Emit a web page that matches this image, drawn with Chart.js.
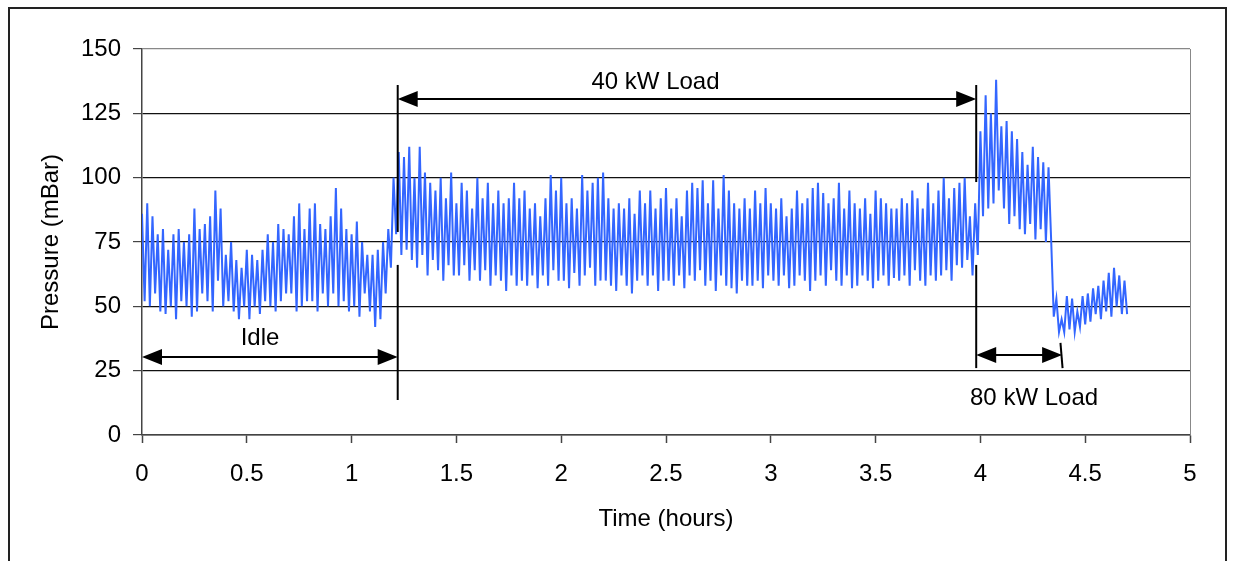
<!DOCTYPE html>
<html>
<head>
<meta charset="utf-8">
<script src="https://cdn.jsdelivr.net/npm/chart.js@4/dist/chart.umd.min.js"></script>
<style>
  body { margin: 0; background: #fff; }
  #wrap { position: relative; width: 1235px; height: 561px; overflow: hidden; }
  #frame { position: absolute; left: 8px; top: 7px; width: 1219px; height: 600px; border: 2px solid #222; box-sizing: border-box; }
  canvas { position: absolute; left: 0; top: 0; }
</style>
</head>
<body>
<div id="wrap">
  <div id="frame"></div>
  <canvas id="pressureChart" width="1235" height="561"></canvas>
</div>
<script>
// sample spacing of the logger trace (hours)
const sampleStep = 0.0125;

// pressure (mBar), one row per 0.1 h
const idlePressure = [
  86,52,90,50,85,55,78,48,
  80,47,72,50,78,45,80,52,
  75,50,78,46,88,48,80,55,
  82,52,85,48,95,60,88,50,
  70,52,75,48,68,45,65,50,
  72,45,70,50,68,47,72,52,
  78,50,75,48,82,52,80,55,
  78,55,85,48,90,50,80,52,
  88,52,90,48,82,55,80,50,
  85,55,96,50,88,52,80,48,
  78,50,83,46,75,55,70,48,
  70,42,72,45,75,55,80,65
];
const load40Pressure = [
  100,78,110,70,108,72,112,68,
  100,65,112,70,102,62,98,68,
  95,64,100,60,92,66,102,62,
  90,62,98,66,95,60,88,64,
  100,60,92,64,98,58,90,62,
  95,60,90,56,92,62,98,58,
  92,60,95,58,88,62,90,57,
  85,62,92,58,101,64,95,60,
  100,60,90,57,92,63,88,58,
  101,62,95,65,98,58,100,60,
  102,60,92,58,88,56,90,62,
  88,58,92,55,86,60,95,62,
  90,58,95,62,88,56,92,60,
  96,60,88,58,92,62,85,57,
  95,62,98,60,96,64,99,58,
  90,60,99,56,88,62,101,58,
  95,57,90,55,88,60,92,58,
  88,58,95,60,90,57,96,62,
  90,60,88,58,92,62,85,57,
  88,58,95,62,90,60,92,56,
  96,60,98,62,94,58,90,64,
  92,60,98,58,88,62,95,57,
  90,58,88,62,92,60,86,57,
  95,60,92,62,90,58,88,61,
  88,60,92,62,90,58,95,64,
  92,60,88,58,98,62,90,60,
  95,62,100,64,92,60,96,66,
  98,65,100,68,85,62,90,70
];
const load80Pressure = [
  118,85,132,88,125,90,138,95,
  120,88,122,82,118,85,115,80,
  110,78,105,82,112,76,108,80,
  106,75,104,76,46,53,40,45,
  40,54,41,53,40,48,42,54,
  43,55,44,57,47,58,45,60,
  48,63,46,65,50,62,47,60,
  47
];

const yTicks = [0, 25, 50, 75, 100, 125, 150];
const xTicks = [0, 0.5, 1, 1.5, 2, 2.5, 3, 3.5, 4, 4.5, 5];

// phase markers (hours / mBar)
const phaseLines = [
  { x: [1.22, 1.22], y: [136, 78.9] },
  { x: [1.22, 1.22], y: [66.1, 13.6] },
  { x: [3.98, 3.98], y: [136, 98.3] },
  { x: [3.98, 3.98], y: [66.1, 26.0] },
  { x: [4.382, 4.392], y: [35.8, 26.0] }
];
const phaseArrows = [
  { label: 'Idle', from: 0, to: 1.22, y: 30.3, tx: 0.563, ty: 37.7 },
  { label: '40 kW Load', from: 1.22, to: 3.98, y: 130.6, tx: 2.45, ty: 137.2 },
  { label: '80 kW Load', from: 3.98, to: 4.39, y: 31.1, tx: 4.256, ty: 14.4 }
];

const pressure = idlePressure.concat(load40Pressure, load80Pressure);
const points = pressure.map((p, i) => ({ x: i * sampleStep, y: p }));

const FONT = '"Liberation Sans", Arial, sans-serif';

function arrowHead(ctx, x, y, dir) {
  ctx.beginPath();
  ctx.moveTo(x, y);
  ctx.lineTo(x - dir * 20, y - 8);
  ctx.lineTo(x - dir * 20, y + 8);
  ctx.closePath();
  ctx.fill();
}

const annotations = {
  id: 'annotations',
  afterDatasetsDraw(chart) {
    const { ctx, chartArea, scales: { x, y } } = chart;
    ctx.save();
    // right border of the plot
    ctx.strokeStyle = '#888';
    ctx.lineWidth = 1;
    ctx.beginPath();
    ctx.moveTo(chartArea.right + 0.5, chartArea.top);
    ctx.lineTo(chartArea.right + 0.5, chartArea.bottom);
    ctx.stroke();

    ctx.strokeStyle = '#000';
    ctx.fillStyle = '#000';
    ctx.lineWidth = 2;
    phaseLines.forEach(l => {
      ctx.beginPath();
      ctx.moveTo(x.getPixelForValue(l.x[0]), y.getPixelForValue(l.y[0]));
      ctx.lineTo(x.getPixelForValue(l.x[1]), y.getPixelForValue(l.y[1]));
      ctx.stroke();
    });

    ctx.font = '24px ' + FONT;
    ctx.textAlign = 'center';
    ctx.textBaseline = 'middle';
    phaseArrows.forEach(a => {
      const x0 = x.getPixelForValue(a.from), x1 = x.getPixelForValue(a.to);
      const py = y.getPixelForValue(a.y);
      ctx.beginPath();
      ctx.moveTo(x0 + 10, py);
      ctx.lineTo(x1 - 10, py);
      ctx.stroke();
      arrowHead(ctx, x0, py, -1);
      arrowHead(ctx, x1, py, 1);
      ctx.fillText(a.label, x.getPixelForValue(a.tx), y.getPixelForValue(a.ty));
    });
    ctx.restore();
  }
};

const ctx = document.getElementById('pressureChart').getContext('2d');
new Chart(ctx, {
  type: 'line',
  data: {
    datasets: [{
      label: 'Pressure',
      data: points,
      borderColor: '#3366ff',
      borderWidth: 2,
      pointRadius: 0,
      tension: 0
    }]
  },
  options: {
    responsive: false,
    animation: false,
    layout: { padding: { top: 49, right: 45, bottom: 0, left: 0 } },
    plugins: { legend: { display: false }, tooltip: { enabled: false } },
    scales: {
      x: {
        type: 'linear',
        min: 0, max: 5,
        afterBuildTicks: s => { s.ticks = xTicks.map(v => ({ value: v })); },
        afterFit: s => { s.height = 126; },
        ticks: { color: '#000', font: { family: FONT, size: 24 }, padding: 17, maxRotation: 0, callback: v => String(v) },
        grid: { drawOnChartArea: false, tickLength: 8, tickColor: '#444', tickWidth: 1.5 },
        border: { color: '#444', width: 1.5 },
        title: { display: true, text: 'Time (hours)', color: '#000', font: { family: FONT, size: 24 }, padding: { top: 4, bottom: 27 } }
      },
      y: {
        min: 0, max: 150,
        afterBuildTicks: s => { s.ticks = yTicks.map(v => ({ value: v })); },
        afterFit: s => { s.width = 142; },
        ticks: { color: '#000', font: { family: FONT, size: 24 }, padding: 12 },
        grid: {
          color: c => (c.tick && c.tick.value === 150) ? '#888' : '#111',
          lineWidth: 1.2,
          tickLength: 9,
          tickColor: '#444'
        },
        border: { color: '#444', width: 1.5 },
        title: { display: true, text: 'Pressure (mBar)', color: '#000', font: { family: FONT, size: 24 }, padding: { top: 37, bottom: 0 } }
      }
    }
  },
  plugins: [annotations]
});
</script>
</body>
</html>
